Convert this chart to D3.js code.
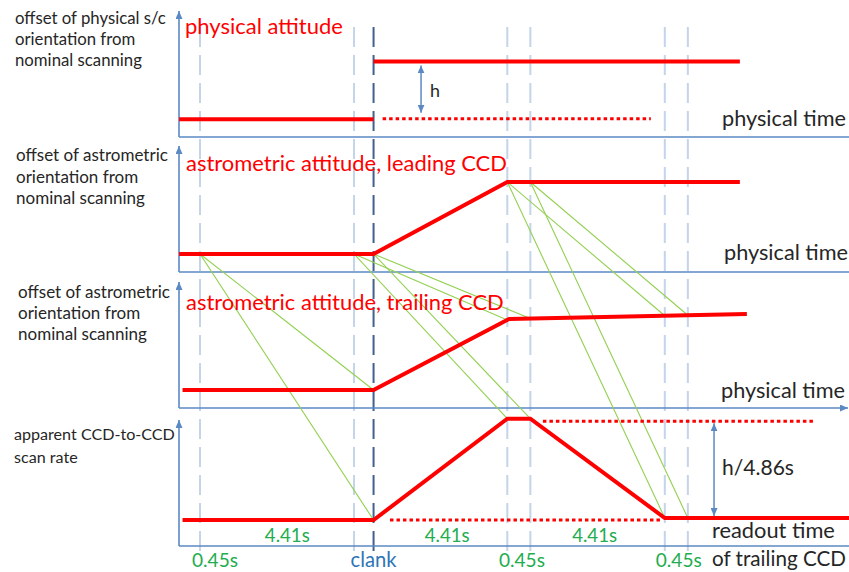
<!DOCTYPE html>
<html>
<head>
<meta charset="utf-8">
<script src="https://cdn.jsdelivr.net/npm/d3@7"></script>
<style>
  body { margin: 0; background: #fff; }
  svg { display: block; }
</style>
</head>
<body>
<svg id="chart" width="849" height="572"></svg>
<script>
// ---- time axis (s), shared by the four stacked panels ----
const guideTimes = [0, 4.41, 8.8, 9.46, 13.31, 13.97];
const clankTime = 4.97;

// ---- panel 1: physical attitude offset ----
const physicalBefore  = [[-0.6, 1.4], [4.97, 1.4]];
const physicalAfter   = [[4.97, 6.0], [15.46, 6.0]];
const physicalNominal = [[5.23, 1.45], [12.91, 1.45]];

// ---- panel 2: astrometric attitude, leading CCD ----
const leadingCCD = [[-0.6, 1.43], [4.97, 1.43], [8.8, 7.14], [15.46, 7.14]];

// ---- panel 3: astrometric attitude, trailing CCD ----
const trailingCCD = [[-0.5, 1.43], [4.97, 1.43], [8.85, 7.06], [15.66, 7.46]];

// ---- panel 4: apparent CCD-to-CCD scan rate ----
const scanRate       = [[-0.5, 2.06], [4.97, 2.06], [8.8, 10.1], [9.46, 10.1], [13.31, 2.22], [18.6, 2.22]];
const scanRateBefore = [[5.44, 2.06], [13.2, 2.06]];
const scanRateAfter  = [[9.82, 9.9], [17.58, 9.9]];

// leading-CCD time -> trailing-CCD time for the transit links
const transitLinks = [[0, 4.97], [4.41, 8.8], [4.97, 9.46], [8.8, 13.31], [9.46, 13.97]];

// interval annotations along the readout axis
const intervalLabels = [
  { text: "4.41s", t: 2.5 },
  { text: "4.41s", t: 7.08 },
  { text: "4.41s", t: 11.3 }
];
const gapLabels = [
  { text: "0.45s", t: 0.43 },
  { text: "0.45s", t: 9.22 },
  { text: "0.45s", t: 13.71 }
];

// offset arrows: time position and the two levels they span
const physicalArrow = { t: 6.33, from: 6.0, to: 1.45 };
const rateArrow     = { t: 14.72, from: 9.9, to: 2.06 };

// ---------------------------------------------------------------
const svg = d3.select("#chart");
const FONT = "Lato, 'Open Sans', sans-serif";

const C = {
  axis: "#5b89c4",
  guide: "#c4d4e9",
  clank: "#42618f",
  red: "#ff0000",
  link: "#92d050",
  green: "#22ad4f",
  blue: "#2e75b6",
  text: "#262626"
};

const x = d3.scaleLinear().domain([0, 4.41]).range([200, 354]);
const axisX = 179;
const panelH = 126;
const panelAxisY = [137, 272, 408, 546];
const y = panelAxisY.map(a => d3.scaleLinear().domain([0, 10]).range([a, a - panelH]));

const line = ys => d3.line().x(d => x(d[0])).y(d => ys(d[1]));

function valueAt(series, t) {
  for (let i = 0; i < series.length - 1; i++) {
    const [t0, v0] = series[i], [t1, v1] = series[i + 1];
    if (t >= t0 && t <= t1) return v0 + (v1 - v0) * (t - t0) / (t1 - t0);
  }
  return series[series.length - 1][1];
}

// arrowhead markers
const defs = svg.append("defs");
function marker(id, color, w, h) {
  defs.append("marker")
    .attr("id", id).attr("viewBox", `0 0 ${w} ${h}`)
    .attr("refX", w).attr("refY", h / 2)
    .attr("markerUnits", "userSpaceOnUse")
    .attr("markerWidth", w).attr("markerHeight", h)
    .attr("orient", "auto-start-reverse")
    .append("path").attr("d", `M0,0L${w},${h / 2}L0,${h}Z`).attr("fill", color);
}
marker("axisHead", C.axis, 8, 7);
marker("dimHead", C.axis, 8, 7);

// ---- vertical guide lines ----
const gGuides = svg.append("g");
gGuides.selectAll("line.guide").data(guideTimes).join("line")
  .attr("class", "guide")
  .attr("x1", d => x(d)).attr("x2", d => x(d))
  .attr("y1", 27).attr("y2", 557)
  .attr("stroke", C.guide).attr("stroke-width", 2)
  .attr("stroke-dasharray", "20,8");
gGuides.append("line")
  .attr("x1", x(clankTime)).attr("x2", x(clankTime))
  .attr("y1", 27).attr("y2", 553)
  .attr("stroke", C.clank).attr("stroke-width", 2)
  .attr("stroke-dasharray", "20,8");

// ---- axes ----
const gAxes = svg.append("g");
panelAxisY.forEach((a, i) => {
  gAxes.append("line")
    .attr("x1", axisX).attr("x2", axisX)
    .attr("y1", a).attr("y2", a - panelH)
    .attr("stroke", C.axis).attr("stroke-width", 1.6)
    .attr("marker-end", "url(#axisHead)");
  const h = gAxes.append("line")
    .attr("x1", axisX).attr("x2", i === 2 ? 848 : 856)
    .attr("y1", a).attr("y2", a)
    .attr("stroke", C.axis).attr("stroke-width", 1.6);
  if (i === 2) h.attr("marker-end", "url(#axisHead)");
});

// ---- transit links (thin green) ----
const gLinks = svg.append("g");
transitLinks.forEach(([ta, tb]) => {
  const x0 = x(ta), y0 = y[1](valueAt(leadingCCD, ta));
  [[trailingCCD, y[2]], [scanRate, y[3]]].forEach(([s, ys]) => {
    gLinks.append("line")
      .attr("x1", x0).attr("y1", y0)
      .attr("x2", x(tb)).attr("y2", ys(valueAt(s, tb)))
      .attr("stroke", C.link).attr("stroke-width", 1.1);
  });
});

// ---- attitude / rate curves ----
const gCurves = svg.append("g").attr("fill", "none");
function solid(data, ys) {
  gCurves.append("path").datum(data).attr("d", line(ys))
    .attr("stroke", C.red).attr("stroke-width", 4);
}
function dotted(data, ys) {
  gCurves.append("path").datum(data).attr("d", line(ys))
    .attr("stroke", C.red).attr("stroke-width", 3)
    .attr("stroke-dasharray", "3.5,3");
}
solid(physicalBefore, y[0]);
solid(physicalAfter, y[0]);
dotted(physicalNominal, y[0]);
solid(leadingCCD, y[1]);
solid(trailingCCD, y[2]);
solid(scanRate, y[3]);
dotted(scanRateBefore, y[3]);
dotted(scanRateAfter, y[3]);

// ---- dimension arrows ----
function dimArrow(a, ys, inset0, inset1) {
  svg.append("line")
    .attr("x1", x(a.t)).attr("x2", x(a.t))
    .attr("y1", ys(a.from) + inset0).attr("y2", ys(a.to) - inset1)
    .attr("stroke", C.axis).attr("stroke-width", 1.5)
    .attr("marker-start", "url(#dimHead)")
    .attr("marker-end", "url(#dimHead)");
}
dimArrow(physicalArrow, y[0], 4, 6);
dimArrow(rateArrow, y[3], 2, 4);

// ---- text ----
const gText = svg.append("g").attr("font-family", FONT);
function label(str, px, py, width, color, base) {
  const t = gText.append("text")
    .attr("x", px).attr("y", py)
    .attr("fill", color).attr("font-size", base)
    .text(str);
  const len = t.node().getComputedTextLength();
  if (width) t.attr("font-size", base * width / len);
  return t;
}
function centered(str, px, py, width, color, base) {
  return label(str, px, py, width, color, base).attr("text-anchor", "middle");
}

// panel titles
label("physical attitude", 185, 34, 158, C.red, 20);
label("astrometric attitude, leading CCD", 186, 171, 321, C.red, 20);
label("astrometric attitude, trailing CCD", 186, 310, 318, C.red, 20);

// y-axis descriptions
const leftBlocks = [
  { x: 15, ys: [24, 45, 66], lines: ["offset of physical s/c", "orientation from", "nominal scanning"], w: 151 },
  { x: 16, ys: [161, 183, 204], lines: ["offset of astrometric", "orientation from", "nominal scanning"], w: 152 },
  { x: 18, ys: [298, 319, 340], lines: ["offset of astrometric", "orientation from", "nominal scanning"], w: 152 },
  { x: 14, ys: [440, 463], lines: ["apparent CCD-to-CCD", "scan rate"], w: 161 }
];
leftBlocks.forEach(b => {
  const first = label(b.lines[0], b.x, b.ys[0], b.w, C.text, 14);
  const fs = first.attr("font-size");
  b.lines.slice(1).forEach((s, i) => label(s, b.x, b.ys[i + 1], null, C.text, fs));
});

// x-axis descriptions
label("physical time", 722, 126, 124, C.text, 18);
label("physical time", 724, 260, 124, C.text, 18);
label("physical time", 721, 398, 124, C.text, 18);
label("readout time", 712, 538, 123, C.text, 18);
label("of trailing CCD", 712, 566, 134, C.text, 18);

// dimension labels
label("h", 430, 97, 10, C.text, 18);
label("h/4.86s", 722, 475, 72, C.text, 18);

// interval labels
intervalLabels.forEach(d => centered(d.text, x(d.t), 542, 45, C.green, 16));
gapLabels.forEach(d => centered(d.text, x(d.t), 567, 46, C.green, 16));
centered("clank", x(clankTime), 567, 46, C.blue, 17);
</script>
</body>
</html>
